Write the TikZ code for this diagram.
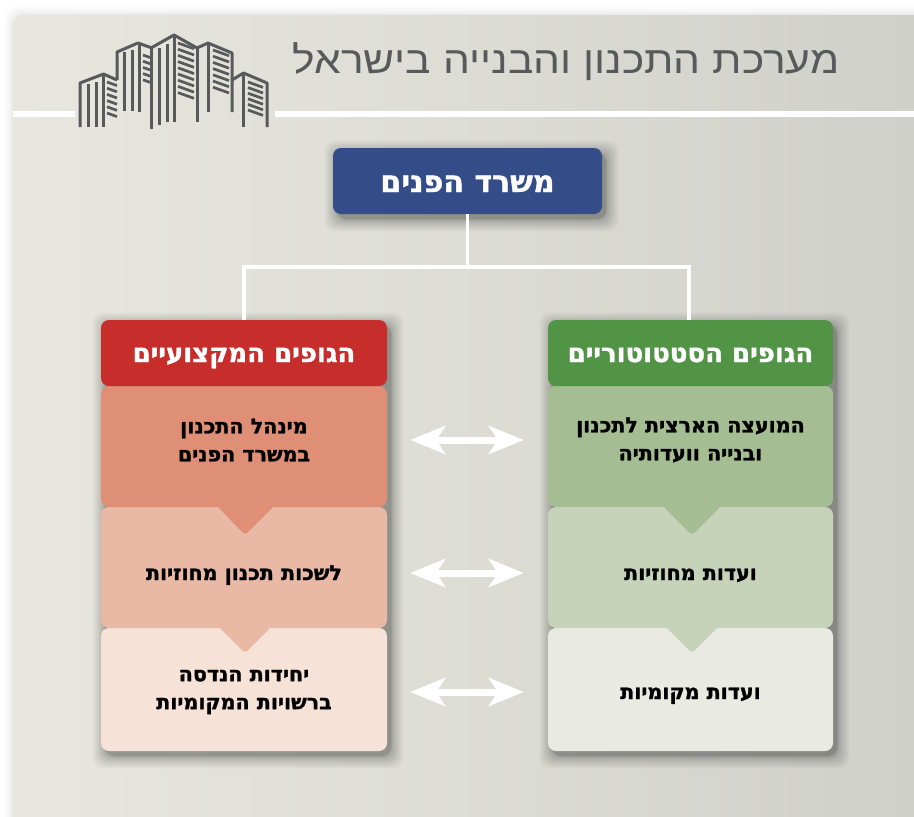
\documentclass[tikz,border=0pt]{standalone}
\usepackage{fontspec}
\usetikzlibrary{arrows.meta,calc}
\TeXXeTstate=1
\newfontfamily\hebbold[Script=Hebrew,BoldFeatures={FakeBold=1.4}]{DejaVu Sans}
\newfontfamily\hebtitle[Script=Hebrew,FakeStretch=1.12]{Liberation Sans}
\definecolor{iconcol}{HTML}{58595B}
\definecolor{bluebox}{HTML}{344D88}
\definecolor{redhead}{HTML}{C72D2B}
\definecolor{greenhead}{HTML}{519446}
\definecolor{redA}{HTML}{DF8F76}
\definecolor{redB}{HTML}{EAB9A5}
\definecolor{redC}{HTML}{F7E2D8}
\definecolor{greenA}{HTML}{A5BD92}
\definecolor{greenB}{HTML}{C7D3B9}
\definecolor{greenC}{HTML}{E9EBE2}
\definecolor{panelL}{HTML}{E7E7DF}
\definecolor{panelR}{HTML}{CFD0C9}
\newcommand{\softshadow}[4]{%
  \foreach \e in {0,1,...,22}{
    \pgfmathsetmacro{\g}{\e*\e/38}
    \fill[black,opacity=0.015,rounded corners=10pt]
      ({#1-\g+4},{#2-\g+5}) rectangle ({#3+\g+4},{#4+\g+5});
  }}
\newcommand{\hatchset}[5]{% x1 x2 firsty step count
  \foreach \n in {1,...,#5}{
    \draw[hatch] (#1,{#3+(\n-1)*#4}) -- (#2,{#3+(\n-1)*#4+(#2-#1)*0.36});
  }}
\tikzset{
  boxshape/.style={inner sep=0pt,rounded corners=8pt,minimum width=286pt},
  headbox/.style={boxshape,minimum height=66pt,text=white,text height=20pt,text depth=2pt,font=\hebbold\bfseries\fontsize{26}{30}\selectfont},
  bodybox/.style={boxshape},
  labeltext/.style={inner sep=0pt,align=center,text=black,font=\hebbold\bfseries\fontsize{20.6}{28}\selectfont},
  singletext/.style={labeltext,text height=16pt,text depth=2pt},
  whiteline/.style={draw=white,line width=3.2pt},
  bothways/.style={draw=white,line width=7pt,shorten <=23pt,shorten >=24pt,
    {Stealth[length=35pt,width=28pt,inset=9pt]}-{Stealth[length=35pt,width=28pt,inset=9pt]}},
  notch/.style={rounded corners=3pt},
  iconline/.style={draw=iconcol,line width=3pt,line join=round},
  hatch/.style={draw=iconcol,line width=2.7pt},
}
\begin{document}
\begin{tikzpicture}[x=1pt,y=-1pt]
\useasboundingbox (0,0) rectangle (914,817);
\fill[white] (0,0) rectangle (914,817);
% panel shadow
\foreach \e in {1,...,14}{
  \pgfmathsetmacro{\g}{\e*\e/22}
  \fill[black,opacity=0.007,rounded corners=12pt] ({13-\g},{15-\g}) rectangle (930,830);
}
\shade[left color=panelL,right color=panelR,middle color=panelL!55!panelR]
  [rounded corners=11pt] (13,817) -- (13,15) [sharp corners] -- (914,15) -- (914,817) -- cycle;
% header rule
\fill[white] (13,111) rectangle (75,117);
\fill[white] (275,111) rectangle (914,117);
\node[inner sep=0pt,text=iconcol,text height=30pt,text depth=2pt,font=\hebtitle\fontsize{38}{42}\selectfont] (title) at (566,59) {\beginR מערכת התכנון והבנייה בישראל\endR};
% building icon
\draw[iconline] (80,127) -- (80,83) -- (103.5,74) -- (117,80);
\draw[iconline] (103.5,74) -- (103.5,127);
\draw[iconline] (88,84) -- (88,127);
\draw[iconline] (96,82) -- (96,127);
\draw[iconline] (117,80) -- (117,52) -- (138,43) -- (152,48);
\draw[iconline] (124,52) -- (124,111);
\draw[iconline] (132,50) -- (132,111);
\draw[iconline] (139.5,44) -- (139.5,112);
\draw[iconline] (151,48) -- (151,129);
\draw[iconline] (151,48) -- (174,35) -- (197,48);
\draw[iconline] (159,48) -- (159,125);
\draw[iconline] (167,44) -- (167,122);
\draw[iconline] (174,35) -- (174,122);
\draw[iconline] (197,48) -- (197,122);
\draw[iconline] (197,48) -- (208,43) -- (232,53) -- (232,112);
\draw[iconline] (208,43) -- (208,112);
\draw[iconline] (232,80) -- (243.5,73) -- (267,83) -- (267,127);
\draw[iconline] (243.5,73) -- (243.5,127);
\hatchset{107}{117}{82}{6.2}{6}
\hatchset{143}{150}{55}{6.2}{5}
\hatchset{178}{194}{43}{6.2}{9}
\hatchset{213}{229}{50}{6.2}{7}
\hatchset{248}{263}{82}{5.6}{6}
% shadows
\softshadow{333}{148}{602}{214}
\softshadow{101}{320}{387}{751}
\softshadow{548}{320}{833}{751}
% boxes: lower ones first
\node[bodybox,fill=redC,minimum height=123pt] (rthree) at (244,689.5) {};
\node[bodybox,fill=redB,minimum height=121pt] (rtwo) at (244,567.5) {};
\node[bodybox,fill=redA,minimum height=121pt] (rone) at (244,446.5) {};
\node[headbox,fill=redhead] (rhead) at (244,353) {\beginR הגופים המקצועיים\endR};
\node[bodybox,fill=greenC,minimum height=123pt,minimum width=285pt] (gthree) at (690.5,689.5) {};
\node[bodybox,fill=greenB,minimum height=121pt,minimum width=285pt] (gtwo) at (690.5,567.5) {};
\node[bodybox,fill=greenA,minimum height=121pt,minimum width=285pt] (gone) at (690.5,446.5) {};
\node[headbox,fill=greenhead,minimum width=285pt] (ghead) at (690.5,353) {\beginR הגופים הסטטוטוריים\endR};
% notches
\fill[redA,notch] (217,506) -- (245,535) -- (274,506) -- cycle;
\fill[redB,notch] (219,627) -- (245,653) -- (271,627) -- cycle;
\fill[greenA,notch] (663,506) -- (692,535) -- (721,506) -- cycle;
\fill[greenB,notch] (666,627) -- (692,653) -- (718,627) -- cycle;
% texts
\node[labeltext] (ltone) at (244,440) {\beginR מינהל התכנון\endR\\\beginR במשרד הפנים\endR};
\node[singletext] (lttwo) at (244,573) {\beginR לשכות תכנון מחוזיות\endR};
\node[labeltext] (ltthree) at (244,692) {\beginR יחידות הנדסה\endR\\\beginR ברשויות המקומיות\endR};
\node[labeltext] (gtone) at (690.5,440) {\beginR המועצה הארצית לתכנון\endR\\\beginR ובנייה וועדותיה\endR};
\node[singletext] (gttwo) at (690.5,573) {\beginR ועדות מחוזיות\endR};
\node[singletext] (gtthree) at (690.5,692) {\beginR ועדות מקומיות\endR};
% top box
\node[inner sep=0pt,rounded corners=8pt,minimum width=269pt,minimum height=66pt,fill=bluebox,text=white,text height=24pt,text depth=2pt,font=\hebbold\bfseries\fontsize{30}{34}\selectfont] (top) at (467.5,181) {\beginR משרד הפנים\endR};
% connectors
\coordinate (bus) at (467.5,267);
\draw[whiteline] (top.south) -- (bus);
\draw[whiteline] (rhead.north) |- (bus);
\draw[whiteline] ([xshift=-1.5pt]ghead.north) |- (bus);
\draw[bothways] (rone.east |- ltone) -- (gone.west |- ltone);
\draw[bothways] (rtwo.east |- lttwo) -- (gtwo.west |- lttwo);
\draw[bothways] (rthree.east |- ltthree) -- (gthree.west |- ltthree);
\end{tikzpicture}
\end{document}
